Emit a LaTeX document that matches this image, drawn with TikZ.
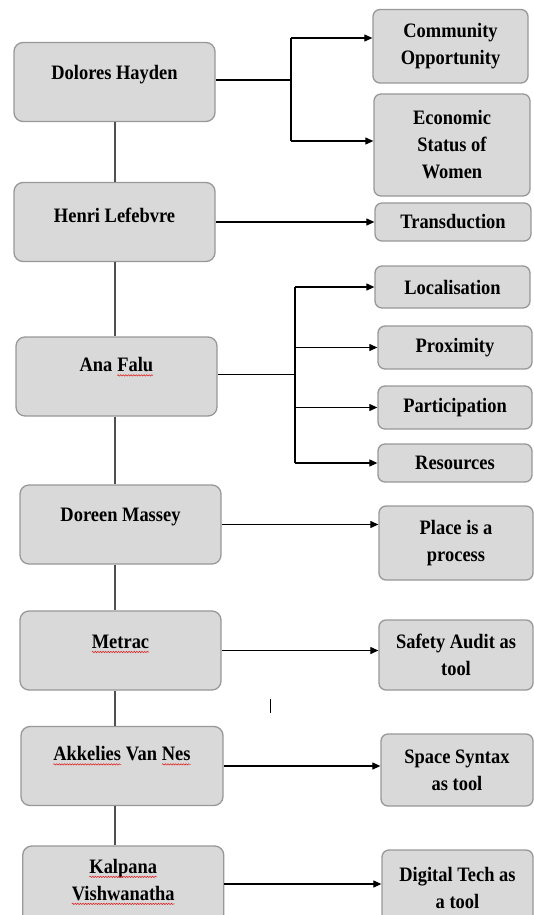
\documentclass[tikz,border=0pt]{standalone}
\usepackage{fontspec}
\setmainfont{Liberation Serif}[FakeStretch=0.9]
\usetikzlibrary{arrows.meta,decorations.pathmorphing}
\definecolor{boxfill}{HTML}{D9D9D9}
\definecolor{boxline}{HTML}{989898}
\definecolor{trunkc}{HTML}{505050}
\definecolor{squig}{HTML}{E02020}
\newcommand\sqg[1]{\tikz[baseline=(w.base)]{\node[inner sep=0pt,outer sep=0pt,anchor=base] (w) {#1};
  \draw[squig,line width=0.55pt,decorate,decoration={snake,amplitude=0.7pt,segment length=2.6pt}]
   ([yshift=-3.5pt]w.base west) -- ([yshift=-3.5pt]w.base east);}}
\begin{document}
\begin{tikzpicture}[x=1pt,y=-1pt,
  box/.style={draw=boxline,fill=boxfill,line width=1.3pt,rounded corners=9pt,inner sep=0pt},
  lbox/.style={box,minimum width=201pt,minimum height=79pt},
  rbox/.style={box,rounded corners=7pt,font=\fontsize{20.5}{27}\selectfont\bfseries,align=center},
  txt/.style={font=\fontsize{20.5}{27}\selectfont\bfseries,align=center,inner sep=0pt},
  conn/.style={line width=1.1pt,black},
  arr/.style={conn,-{Triangle[length=8pt,width=7pt]}},
  trunk/.style={line width=1.3pt,trunkc}]
\useasboundingbox (0,0) rectangle (534,915);
\clip (0,0) rectangle (534,915);
% left column
\node[lbox] (dh) at (114.5,82) {};
\node[txt] (dht) at (114.5,75) {Dolores Hayden};
\node[lbox] (hl) at (114.5,222) {};
\node[txt] (hlt) at (114.5,215) {Henri Lefebvre};
\node[lbox] (af) at (116.5,376.5) {};
\node[txt] (aft) at (116.5,367) {Ana \sqg{Falu}};
\node[lbox] (dm) at (120.5,524.5) {};
\node[txt] (dmt) at (120.5,517) {Doreen Massey};
\node[lbox] (mt) at (120.5,650.5) {};
\node[txt] (mtt) at (120.5,644) {\sqg{Metrac}};
\node[lbox,minimum width=202pt] (av) at (122,766) {};
\node[txt] (avt) at (122,756) {\sqg{Akkelies} Van \sqg{Nes}};
\node[lbox] (kv) at (123.25,885.5) {};
\node[txt] (kvt) at (123.25,882) {\sqg{Kalpana}\\\sqg{Vishwanatha}};
% right column
\node[rbox,minimum width=155pt,minimum height=73.5pt] (co) at (450.5,46.25) {Community\\Opportunity};
\node[rbox,minimum width=156pt,minimum height=102pt] (es) at (452,145) {Economic\\Status of\\Women};
\node[rbox,minimum width=156pt,minimum height=38pt] (tr) at (453,222) {Transduction};
\node[rbox,minimum width=155pt,minimum height=42pt] (lo) at (452.5,287) {Localisation};
\node[rbox,minimum width=154pt,minimum height=43pt] (px) at (455,347.5) {Proximity};
\node[rbox,minimum width=154pt,minimum height=43pt] (pa) at (455,407.5) {Participation};
\node[rbox,minimum width=154pt,minimum height=38pt] (re) at (455,463) {Resources};
\node[rbox,minimum width=154pt,minimum height=74pt] (pl) at (456,543) {Place is a\\process};
\node[rbox,minimum width=154pt,minimum height=70pt] (sa) at (456,655) {Safety Audit as\\tool};
\node[rbox,minimum width=152pt,minimum height=72pt] (ss) at (457,770) {Space Syntax\\as tool};
\node[rbox,minimum width=151pt,minimum height=75pt] (dt) at (457.5,887.5) {Digital Tech as\\a tool};
% trunk
\coordinate (tk) at (115,0);
\foreach \a/\b in {dh/hl,hl/af,af/dm,dm/mt,mt/av,av/kv}
  \draw[trunk] (\a.south -| tk) -- (\b.north -| tk);
% connectors
\coordinate (j1) at (291,80);
\coordinate (j1t) at (291,38);
\coordinate (j1b) at (291,141);
\draw[conn] (dh.east |- j1) -- (j1);
\draw[conn] (j1t) -- (j1b);
\draw[arr] (j1t) -- (co.west |- j1t);
\draw[arr] (j1b) -- (es.west |- j1b);
\draw[arr] (hl.east) -- (tr.west);
\coordinate (j2) at (295,374.5);
\draw[conn] (af.east |- j2) -- (j2);
\draw[conn] (j2 |- lo.west) -- (j2 |- re.west);
\foreach \t in {lo,px,pa,re}
  \draw[arr] (j2 |- \t.west) -- (\t.west);
\draw[arr] (dm.east) -- (pl.west |- dm.east);
\draw[arr] (mt.east) -- (sa.west |- mt.east);
\draw[arr] (av.east) -- (ss.west |- av.east);
\draw[arr] (kv.east |- 0,884) -- (dt.west |- 0,884);
% stray cursor mark
\coordinate (c1) at (270,699);
\coordinate (c2) at (270,713);
\draw[line width=1pt] (c1) -- (c2);
\end{tikzpicture}
\end{document}
